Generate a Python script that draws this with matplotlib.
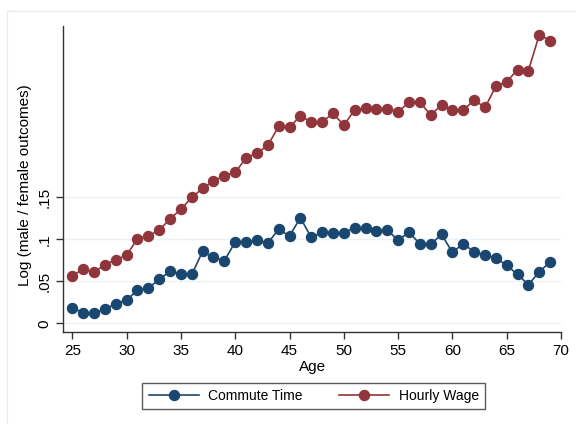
import matplotlib
matplotlib.use("Agg")
import matplotlib.pyplot as plt
from matplotlib.lines import Line2D

plt.rcParams['font.family'] = ['Liberation Sans', 'DejaVu Sans']

ages = list(range(25, 70))
commute = [0.0186, 0.0127, 0.0123, 0.0170, 0.0234, 0.0278, 0.0393, 0.0420, 0.0524, 0.0619,
           0.0583, 0.0583, 0.0857, 0.0786, 0.0746, 0.0968, 0.0964, 0.0992, 0.0956, 0.1120,
           0.1040, 0.1257, 0.1024, 0.1083, 0.1080, 0.1080, 0.1139, 0.1135, 0.1100, 0.1110,
           0.0992, 0.1083, 0.0948, 0.0940, 0.1060, 0.0845, 0.0950, 0.0850, 0.0813, 0.0780,
           0.0690, 0.0583, 0.0460, 0.0615, 0.0730]
wage = [0.0567, 0.0646, 0.0607, 0.0700, 0.0757, 0.0810, 0.1010, 0.1040, 0.1110, 0.1245,
        0.1357, 0.1500, 0.1607, 0.1696, 0.1757, 0.1798, 0.1968, 0.2027, 0.2119, 0.2345,
        0.2333, 0.2471, 0.2396, 0.2396, 0.2500, 0.2360, 0.2540, 0.2560, 0.2548, 0.2555,
        0.2520, 0.2630, 0.2635, 0.2480, 0.2600, 0.2536, 0.2536, 0.2659, 0.2570, 0.2820,
        0.2877, 0.3020, 0.3010, 0.3436, 0.3365]

blue = '#1a476f'
red = '#90353b'

fig = plt.figure(figsize=(5.76, 4.24), dpi=100)
ax = fig.add_axes([63.3 / 576, 1 - 331.7 / 424, (561 - 63.3) / 576, (331.7 - 26) / 424])

# faint outer frame
fig.add_artist(Line2D([7 / 576, 1], [1 - 11 / 424] * 2, color='#e6ecee', lw=0.8))
fig.add_artist(Line2D([7 / 576] * 2, [0, 1 - 11 / 424], color='#e6ecee', lw=0.8))

yt = [0, 0.05, 0.1, 0.15]
for v in yt:
    ax.axhline(v, color='#eaf2f3', lw=1.0, zorder=0)

ax.plot(ages, commute, '-o', color=blue, lw=1.2, ms=7.2, label='Commute Time')
ax.plot(ages, wage, '-o', color=red, lw=1.2, ms=7.2, label='Hourly Wage')

ax.set_xlim(24.17, 70)
ax.set_ylim(-0.0099, 0.354)
ax.set_xticks(range(25, 71, 5))
ax.set_yticks(yt)
ax.set_yticklabels(['0', '.05', '.1', '.15'], rotation=90, va='center')
ax.tick_params(labelsize=11, length=5, width=1, color='#333333')
ax.set_xlabel('Age', fontsize=11, labelpad=2)
ax.set_ylabel('Log (male / female outcomes)', fontsize=11)
ax.yaxis.set_label_coords(-0.062, 0.48)

for s in ['top', 'right']:
    ax.spines[s].set_visible(False)
for s in ['left', 'bottom']:
    ax.spines[s].set_color('#333333')
    ax.spines[s].set_linewidth(1)

leg = ax.legend(loc='upper center', bbox_to_anchor=(0.503, -0.145), ncol=2, fontsize=10,
                frameon=True, fancybox=False, edgecolor='#333333', handlelength=3.6,
                handletextpad=0.7, columnspacing=2.6, borderpad=0.45)
leg.get_frame().set_linewidth(1)

fig.savefig('out.png', dpi=100)
